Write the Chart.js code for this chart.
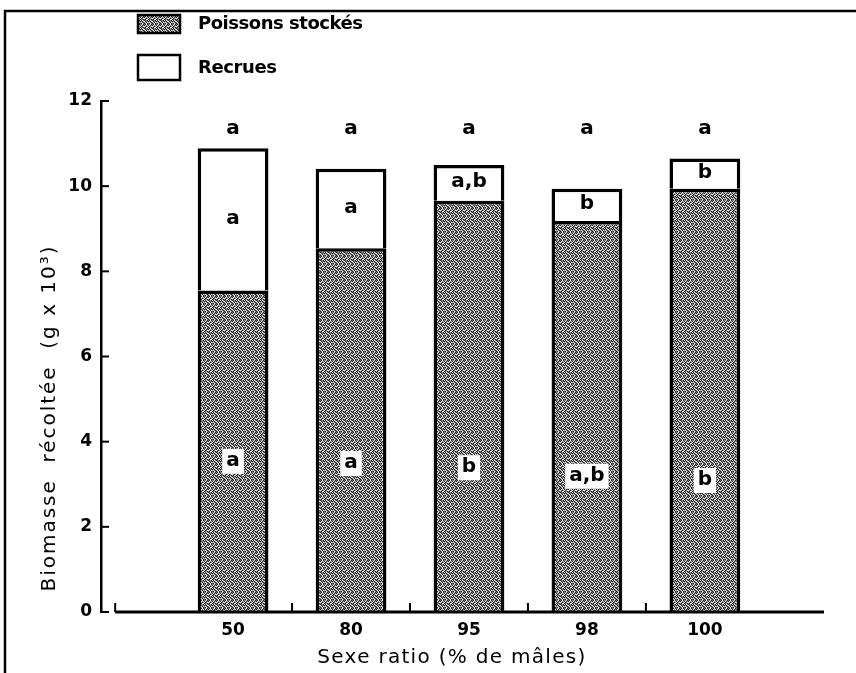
<!DOCTYPE html>
<html>
<head>
<meta charset="utf-8">
<script src="https://cdn.jsdelivr.net/npm/chart.js@4.4.1/dist/chart.umd.min.js"></script>
<style>
  html, body { margin: 0; padding: 0; background: #fff; }
  #wrap { width: 856px; height: 673px; position: relative; }
</style>
</head>
<body>
<div id="wrap"><canvas id="chart" width="856" height="673"></canvas></div>
<script>
var categories = ['50', '80', '95', '98', '100'];
var stocked = [7.55, 8.54, 9.66, 9.18, 9.94];
var recruits = [3.34, 1.87, 0.84, 0.76, 0.71];
var topLetters = ['a', 'a', 'a', 'a', 'a'];
var recruitLetters = ['a', 'a', 'a,b', 'b', 'b'];
var stockedLetters = ['a', 'a', 'b', 'a,b', 'b'];
var stockedLetterY = [3.55, 3.5, 3.4, 3.2, 3.1];
var yTicks = [0, 2, 4, 6, 8, 10, 12];

var FONT = '"DejaVu Sans", "Liberation Sans", sans-serif';

// grey stipple used for the stocked fish
var makeStipple = function() {
  var rows, c, ctx, shades, i, j;
  rows = ['10201120', '02120201', '21012012', '10220110',
          '01102021', '20110102', '12021210', '01201021'];
  shades = ['#161616', '#808080', '#eeeeee'];
  c = document.createElement('canvas');
  c.width = 8;
  c.height = 8;
  ctx = c.getContext('2d');
  for (i = 0; i < 8; i++) {
    for (j = 0; j < 8; j++) {
      ctx.fillStyle = shades[+rows[i][j]];
      ctx.fillRect(j, i, 1, 1);
    }
  }
  return ctx.createPattern(c, 'repeat');
};

var stipple = makeStipple();

var spacedText = function(ctx, text, x, y, width) {
  var w;
  ctx.letterSpacing = '0px';
  w = ctx.measureText(text).width;
  if (width && text.length > 1) {
    ctx.letterSpacing = ((width - w) / (text.length - 1)) + 'px';
  }
  ctx.fillText(text, x, y);
  ctx.letterSpacing = '0px';
};

var decor = {
  id: 'decor',
  afterDraw: function(chart) {
    var ctx = chart.ctx, x = chart.scales.x, y = chart.scales.y, area = chart.chartArea;
    var i, cx, tw, ty;
    ctx.save();
    ctx.strokeStyle = '#000';
    ctx.fillStyle = '#000';
    ctx.lineWidth = 2.5;

    // frame
    ctx.beginPath();
    ctx.moveTo(856, 11);
    ctx.lineTo(5, 11);
    ctx.lineTo(5, 673);
    ctx.stroke();

    // x baseline with upward ticks between categories
    ctx.lineWidth = 3;
    ctx.beginPath();
    ctx.moveTo(x.getPixelForValue(-1), area.bottom);
    ctx.lineTo(area.right, area.bottom);
    ctx.stroke();
    ctx.lineWidth = 2;
    [-1, 0.5, 1.5, 2.5, 3.5].forEach(function(v) {
      var px = x.getPixelForValue(v);
      ctx.beginPath();
      ctx.moveTo(px, area.bottom);
      ctx.lineTo(px, area.bottom - 9);
      ctx.stroke();
    });

    // inward y ticks
    yTicks.forEach(function(v) {
      var py = y.getPixelForValue(v);
      ctx.beginPath();
      ctx.moveTo(area.left, py);
      ctx.lineTo(area.left + 8, py);
      ctx.stroke();
    });

    // significance letters
    ctx.textAlign = 'center';
    ctx.textBaseline = 'middle';
    ctx.font = 'bold 20px ' + FONT;
    for (i = 0; i < categories.length; i++) {
      cx = x.getPixelForValue(i);
      ctx.fillStyle = '#000';
      ctx.fillText(topLetters[i], cx, y.getPixelForValue(11.35));
      ctx.fillText(recruitLetters[i], cx, y.getPixelForValue(stocked[i] + recruits[i] / 2) - 1);
      ty = y.getPixelForValue(stockedLetterY[i]);
      tw = ctx.measureText(stockedLetters[i]).width + 8;
      ctx.fillStyle = '#fff';
      ctx.fillRect(cx - tw / 2, ty - 12, tw, 25);
      ctx.fillStyle = '#000';
      ctx.fillText(stockedLetters[i], cx, ty);
    }

    // legend
    ctx.lineWidth = 2.5;
    ctx.fillStyle = stipple;
    ctx.fillRect(138, 15, 42, 18);
    ctx.strokeRect(138, 15, 42, 18);
    ctx.fillStyle = '#fff';
    ctx.fillRect(138, 55, 42, 25);
    ctx.strokeRect(138, 55, 42, 25);
    ctx.fillStyle = '#000';
    ctx.textAlign = 'left';
    ctx.font = 'bold 18px ' + FONT;
    spacedText(ctx, 'Poissons stockés', 198, 24, 165);
    spacedText(ctx, 'Recrues', 198, 68, 79);

    // axis titles
    ctx.textAlign = 'center';
    ctx.font = '20px ' + FONT;
    spacedText(ctx, 'Sexe ratio (% de mâles)', 452, 658, 268);
    ctx.translate(50, 418);
    ctx.rotate(-Math.PI / 2);
    spacedText(ctx, 'Biomasse  récoltée  (g x 10³)', 0, 0, 345);
    ctx.restore();
  }
};

var chart = new Chart(document.getElementById('chart'), {
  type: 'bar',
  data: {
    datasets: [
      {
        label: 'Poissons stockés',
        data: stocked.map(function(v, i) { return { x: i, y: v }; }),
        backgroundColor: stipple,
        borderColor: '#000',
        borderWidth: 3.5,
        borderSkipped: 'start'
      },
      {
        label: 'Recrues',
        data: recruits.map(function(v, i) { return { x: i, y: v }; }),
        backgroundColor: '#fff',
        borderColor: '#000',
        borderWidth: 3.5,
        borderSkipped: 'start'
      }
    ]
  },
  options: {
    responsive: false,
    animation: false,
    categoryPercentage: 1,
    barPercentage: 0.6,
    layout: { padding: { top: 101, right: 32, bottom: 0, left: 0 } },
    plugins: {
      legend: { display: false },
      tooltip: { enabled: false }
    },
    scales: {
      x: {
        type: 'linear',
        stacked: true,
        offset: false,
        min: -1.12,
        max: 5.01,
        grid: { display: false, drawTicks: false, offset: false },
        border: { display: false },
        afterBuildTicks: function(scale) {
          scale.ticks = categories.map(function(c, i) { return { value: i }; });
        },
        afterFit: function(scale) { scale.height = 61; },
        ticks: {
          padding: 8,
          color: '#000',
          font: { family: FONT, size: 17, weight: 'bold' },
          callback: function(v) { return categories[v]; }
        }
      },
      y: {
        stacked: true,
        min: 0,
        max: 12,
        grid: { display: false, drawTicks: false },
        border: { display: true, color: '#000', width: 2.5 },
        afterFit: function(scale) { scale.width = 101; },
        ticks: {
          stepSize: 2,
          padding: 9,
          color: '#000',
          font: { family: FONT, size: 17, weight: 'bold' }
        }
      }
    }
  },
  plugins: [decor]
});
</script>
</body>
</html>
